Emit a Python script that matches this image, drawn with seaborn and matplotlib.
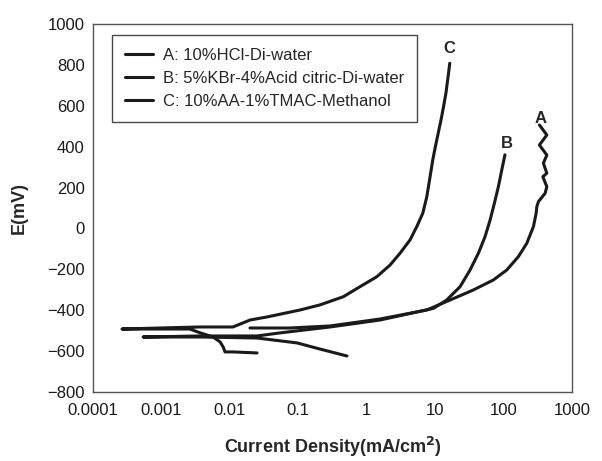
import matplotlib
matplotlib.use("Agg")
import matplotlib.pyplot as plt
import seaborn as sns
import pandas as pd

# polarization curves (cathodic end -> Ecorr -> anodic end)
a_i = [0.0197, 0.076, 0.292, 1.57, 7.57, 16.6, 36.3, 71.2, 112, 165, 219, 274,
       300, 307, 324, 406, 430, 376, 430, 383, 430, 335, 430, 335]
a_e = [-487, -487, -477, -443, -399, -350, -301, -252, -203, -138, -73, 9,
       74, 106, 131, 172, 204, 253, 270, 319, 359, 408, 457, 506]

b_i = [0.516, 0.208, 0.096, 0.025, 0.0037, 0.00054, 0.0037, 0.025, 0.054,
       0.292, 1.57, 9.45, 14.8, 23.2, 32.5, 43.0, 53.8, 63.7, 73.6, 84.2, 94.4,
       105]
b_e = [-624, -590, -560, -536, -531, -531, -526, -526, -511, -482, -448, -391,
       -350, -285, -203, -121, -40, 41, 123, 204, 286, 360]

c_i = [0.025, 0.0111, 0.0085, 0.008, 0.0072, 0.0057, 0.0037, 0.0026, 0.00095,
       0.000265, 0.00095, 0.0037, 0.0111, 0.0156, 0.0197, 0.035, 0.106, 0.208,
       0.456, 0.80, 1.41, 2.20, 3.08, 4.31, 5.40, 6.61, 7.57, 8.45, 9.25, 10.1,
       11.1, 12.2, 13.3, 14.4, 15.5, 16.4]
c_e = [-609, -604, -604, -580, -555, -531, -511, -492, -492, -492, -487, -482,
       -482, -462, -448, -433, -399, -374, -334, -285, -236, -179, -121, -56,
       9, 74, 155, 253, 335, 400, 465, 530, 596, 661, 742, 808]

names = ["A: 10%HCl-Di-water", "B: 5%KBr-4%Acid citric-Di-water",
         "C: 10%AA-1%TMAC-Methanol"]
tags = ["A", "B", "C"]
tag_pos = [(350, 540), (112, 415), (16, 882)]

xticks = [0.0001, 0.001, 0.01, 0.1, 1, 10, 100, 1000]
xlabels = ["0.0001", "0.001", "0.01", "0.1", "1", "10", "100", "1000"]

rows = []
for name, xs, ys in zip(names, [a_i, b_i, c_i], [a_e, b_e, c_e]):
    for k, (x, y) in enumerate(zip(xs, ys)):
        rows.append({"curve": name, "step": k, "I": x, "E": y})
df = pd.DataFrame(rows)

sns.set_style("white")
plt.rcParams["font.family"] = ["Liberation Sans", "DejaVu Sans"]

fig = plt.figure(figsize=(6.02, 4.61), dpi=100)
ax = fig.add_axes([0.1545, 0.1497, 0.7955, 0.7983])

sns.lineplot(data=df, x="I", y="E", hue="curve", units="curve", estimator=None,
             sort=False, palette=["#1a1a1a"] * 3, linewidth=2.2, ax=ax,
             legend=True)

ax.set_xscale("log")
ax.set_xlim(0.0001, 1000)
ax.set_ylim(-800, 1000)
ax.set_xticks(xticks)
ax.set_xticklabels(xlabels)
ax.minorticks_off()
ax.set_yticks(range(-800, 1001, 200))
ax.tick_params(axis="both", direction="out", length=4, width=1, color="#444444",
               labelsize=12, colors="#1a1a1a", pad=2)
ax.tick_params(axis="x", pad=4)
for s in ax.spines.values():
    s.set_color("#555555")
    s.set_linewidth(1)

for t, (x, y) in zip(tags, tag_pos):
    ax.text(x, y, t, fontsize=12, fontweight="bold", ha="center", va="center")

ax.set_xlabel(r"Current Density(mA/cm$^{\mathbf{2}}$)", fontsize=13,
              fontweight="bold", labelpad=12)
ax.set_ylabel("E(mV)", fontsize=13, fontweight="bold", labelpad=14)

leg = ax.legend(loc="upper left", bbox_to_anchor=(0.04, 0.97), fontsize=12,
                frameon=True, fancybox=False, handlelength=1.7,
                borderpad=0.75, labelspacing=0.5, handletextpad=0.6,
                borderaxespad=0)
leg.get_frame().set_edgecolor("#1a1a1a")
leg.get_frame().set_linewidth(1)
for h in leg.get_lines():
    h.set_linewidth(2.2)
leg.set_title(None)

fig.savefig("out.png", dpi=100)
